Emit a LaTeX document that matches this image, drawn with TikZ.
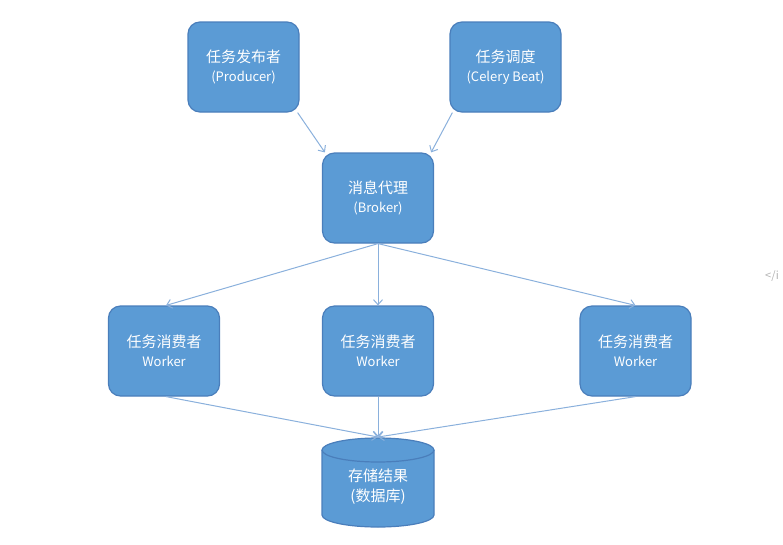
\documentclass[tikz,border=0pt]{standalone}
\usepackage{fontspec}
\setmainfont{Noto Sans CJK SC}
\usetikzlibrary{arrows.meta}
\definecolor{boxfill}{HTML}{5B9BD5}
\definecolor{boxedge}{HTML}{4A7EBB}
\definecolor{linkc}{HTML}{8AB0DC}
\newcommand{\ensz}{\fontsize{13}{17}\selectfont}
\begin{document}
\begin{tikzpicture}[x=1pt,y=-1pt,
  box/.style={draw=boxedge,fill=boxfill,line width=1.2pt,rounded corners=12pt,
    minimum width=111pt,minimum height=90pt,inner sep=0pt,text=white,align=center,
    font=\fontsize{15}{19}\selectfont},
  link/.style={draw=linkc,line width=1pt,-{Straight Barb[length=5pt,width=9pt]}}]
\useasboundingbox (0,0) rectangle (783,544);
\node[box] (prod) at (243.5,67) {任务发布者\\{\ensz (Producer)}};
\node[box] (beat) at (505.5,67) {任务调度\\{\ensz (Celery Beat)}};
\node[box] (broker) at (378,198) {消息代理\\{\ensz (Broker)}};
\node[box] (w1) at (164,351) {任务消费者\\{\ensz Worker}};
\node[box] (w2) at (378,351) {任务消费者\\{\ensz Worker}};
\node[box] (w3) at (635.5,351) {任务消费者\\{\ensz Worker}};
% database cylinder
\draw[draw=boxedge,fill=boxfill,line width=1.2pt]
  (322,450) -- (322,515) arc[start angle=180,end angle=360,x radius=56,y radius=-12]
  -- (434,450) arc[start angle=0,end angle=180,x radius=56,y radius=-12] -- cycle;
\draw[draw=boxedge,line width=1.2pt]
  (322,450) arc[start angle=180,end angle=360,x radius=56,y radius=-12];
\node[text=white,align=center,font=\fontsize{15}{20}\selectfont] (db) at (378,487)
  {存储结果\\(数据库)};
\coordinate (dbtop) at (378,437);
% stray text at right edge
\node[anchor=west,text=black!30,font=\fontsize{11}{13}\selectfont,inner sep=0pt] (stray) at (765,276) {</i};
% connectors
\draw[link] ([xshift=-2pt]prod.south east) -- ([xshift=3pt]broker.north west);
\draw[link] ([xshift=3pt]beat.south west) -- ([xshift=-3pt]broker.north east);
\draw[link] (broker.south) -- ([xshift=2pt]w1.north);
\draw[link] (broker.south) -- (w2.north);
\draw[link] (broker.south) -- (w3.north);
\draw[link] ([xshift=2pt]w1.south) -- (dbtop);
\draw[link] (w2.south) -- (dbtop);
\draw[link] (w3.south) -- (dbtop);
\end{tikzpicture}
\end{document}
